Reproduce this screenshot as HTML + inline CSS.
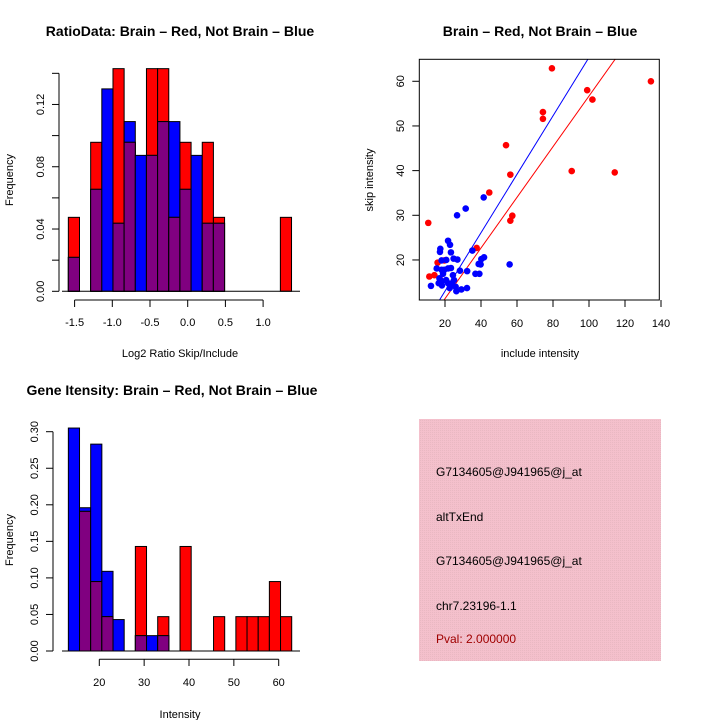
<!DOCTYPE html>
<html><head><meta charset="utf-8"><style>
body{margin:0;background:#fff}
svg{display:block;font-family:"Liberation Sans",sans-serif}
</style></head><body>
<svg id="c" width="720" height="720" viewBox="0 0 720 720" xmlns="http://www.w3.org/2000/svg">
<defs>
<pattern id="pk" width="2" height="2" patternUnits="userSpaceOnUse"><rect width="2" height="2" fill="#f4c0cc"/><rect width="1" height="1" fill="#e9b8c2"/></pattern>
</defs>
<g id="p1"></g>
<g id="p2"></g>
<g id="p3"></g>
<g>
<rect x="419" y="419" width="242" height="242" fill="url(#pk)"/>
<text x="436" y="476" font-size="12">G7134605@J941965@j_at</text>
<text x="436" y="521" font-size="12">altTxEnd</text>
<text x="436" y="565" font-size="12">G7134605@J941965@j_at</text>
<text x="436" y="610" font-size="12">chr7.23196-1.1</text>
<text x="436" y="643" font-size="12" fill="#a00000">Pval: 2.000000</text>
</g>
</svg>
<script>
// ---- data: ratio histogram ----
const ratioStart = -1.583, ratioWidth = 0.148;
const ratioRed  = [0.0475,0,0.0957,0,0.143,0.0957,0,0.143,0.143,0.0475,0.0957,0,0.0957,0.0475,0,0,0,0,0,0.0475];
const ratioBlue = [0.0218,0,0.0655,0.130,0.0437,0.109,0.0873,0.0873,0.109,0.109,0.0655,0.0873,0.0437,0.0437,0,0,0,0,0,0];
const ratioXTicks = [-1.5,-1,-0.5,0,0.5,1];
const ratioXLabels = ["-1.5","-1.0","-0.5","0.0","0.5","1.0"];
const ratioYTicks = [0,0.02,0.04,0.06,0.08,0.10,0.12,0.14];
const ratioYLabels = ["0.00","0.04","0.08","0.12"];
// ---- data: intensity histogram ----
const intStart = 13.1, intWidth = 2.49;
const intRed  = [0,0.191,0.095,0.047,0,0,0.143,0,0.047,0,0.143,0,0,0.047,0,0.047,0.047,0.047,0.095,0.047];
const intBlue = [0.305,0.196,0.283,0.109,0.043,0,0.021,0.021,0.021,0,0,0,0,0,0,0,0,0,0,0];
const intXTicks = [20,30,40,50,60];
const intYTicks = [0,0.05,0.10,0.15,0.20,0.25,0.30];
const intYLabels = ["0.00","0.05","0.10","0.15","0.20","0.25","0.30"];
// ---- data: scatter ----
const redInc = [79.4,134.4,99,101.9,74.4,74.4,53.9,56.3,90.4,114.3,44.6,57.4,56.3,10.7,37.6,15.9,11.3,14.1,17.2,19.6];
const redSkip = [62.9,60,58,55.9,53.1,51.6,45.7,39.1,39.9,39.6,35.1,29.9,28.8,28.3,22.7,19.4,16.3,16.6,15.7,19.9];
const blueInc = [41.5,31.5,26.7,21.7,22.8,17.4,17.2,23.3,35.2,41.7,40.2,24.8,26.9,18.1,20.7,38.7,39.8,55.9,15.4,21.7,23.3,18.1,28.3,32.3,36.9,39.1,18.9,24.4,16.9,18.3,20.6,25,16.5,18.3,12.2,22.6,25.9,29.1,32.2,26.3,21.7,23.9,19.6];
const blueSkip = [34,31.5,30,24.3,23.4,22.5,21.8,21.7,22.1,20.6,20.2,20.3,20.1,19.9,20,19.1,19,19,18.1,18.1,18.2,17.8,17.6,17.5,16.9,16.9,16.9,16.6,15.9,15.2,15.5,15.5,14.8,14.3,14.2,13.7,14,13.4,13.7,13,14.8,14.8,17.8];
const blueLine = [-0.06, 0.654]; // intercept, slope
const redLine = [0.0, 0.567];
const scXTicks = [20,40,60,80,100,120,140];
const scYTicks = [20,30,40,50,60];

const NS="http://www.w3.org/2000/svg";
function mk(parent,tag,attrs){const e=document.createElementNS(NS,tag);for(const k in attrs)e.setAttribute(k,attrs[k]);parent.appendChild(e);return e;}
function txt(parent,x,y,s,size,extra){const e=mk(parent,'text',Object.assign({x:x,y:y,'font-size':size,'text-anchor':'middle'},extra||{}));e.textContent=s;return e;}

function hist(g,start,w,red,blue,sx,sy,y0){
  for(let i=0;i<red.length;i++){
    const x1=sx(start+i*w),x2=sx(start+(i+1)*w);
    const r=red[i],b=blue[i];
    const bars=[[r,'#ff0000','red'],[b,'#0000ff','blue']].filter(a=>a[0]>0).sort((a,c)=>c[0]-a[0]);
    for(const [v,col,nm] of bars){
      const e=mk(g,'rect',{x:x1,y:sy(v),width:x2-x1,height:y0-sy(v),fill:col,stroke:'#000','stroke-width':1});
      
      
    }
    if(r>0&&b>0){const m=Math.min(r,b);
      const e=mk(g,'rect',{x:x1,y:sy(m),width:x2-x1,height:y0-sy(m),fill:'#800080',stroke:'#000','stroke-width':1});
      
      
    }
  }
}

// Plot 1
(function(){
  const g=document.getElementById('p1');
  const sx=v=>187.7+v*75.4, sy=v=>291.3-v*1557;
  hist(g,ratioStart,ratioWidth,ratioRed,ratioBlue,sx,sy,291.3);
  mk(g,'line',{x1:59,y1:sy(0),x2:59,y2:sy(0.14),stroke:'#000'});
  ratioYTicks.forEach(t=>mk(g,'line',{x1:52,y1:sy(t),x2:59,y2:sy(t),stroke:'#000'}));
  ratioYLabels.forEach(l=>{const y=sy(parseFloat(l));txt(g,44,y,l,11,{transform:`rotate(-90 44 ${y})`});});
  mk(g,'line',{x1:sx(-1.5),y1:300,x2:sx(1),y2:300,stroke:'#000'});
  ratioXTicks.forEach((t,i)=>{mk(g,'line',{x1:sx(t),y1:300,x2:sx(t),y2:307,stroke:'#000'});txt(g,sx(t),326,ratioXLabels[i],11);});
  mk(g,'line',{x1:62,y1:291.3,x2:300,y2:291.3,stroke:'#000'});
  txt(g,180,36,'RatioData: Brain – Red, Not Brain – Blue',14,{'font-weight':'bold'});
  txt(g,180,357,'Log2 Ratio Skip/Include',11);
  txt(g,13,180,'Frequency',11,{transform:'rotate(-90 13 180)'});
})();

// Plot 3
(function(){
  const g=document.getElementById('p3');
  const sx=v=>99.3+(v-20)*4.485, sy=v=>651-v*731;
  hist(g,intStart,intWidth,intRed,intBlue,sx,sy,651);
  mk(g,'line',{x1:53,y1:sy(0),x2:53,y2:sy(0.3),stroke:'#000'});
  intYTicks.forEach((t,i)=>{const y=sy(t);mk(g,'line',{x1:46,y1:y,x2:53,y2:y,stroke:'#000'});txt(g,38,y,intYLabels[i],11,{transform:`rotate(-90 38 ${y})`});});
  mk(g,'line',{x1:sx(20),y1:659.3,x2:sx(60),y2:659.3,stroke:'#000'});
  intXTicks.forEach(t=>{mk(g,'line',{x1:sx(t),y1:659.3,x2:sx(t),y2:666,stroke:'#000'});txt(g,sx(t),686,String(t),11);});
  mk(g,'line',{x1:62,y1:651,x2:300,y2:651,stroke:'#000'});
  txt(g,172,395,'Gene Itensity: Brain – Red, Not Brain – Blue',14,{'font-weight':'bold'});
  txt(g,180,718,'Intensity',11);
  txt(g,13,540,'Frequency',11,{transform:'rotate(-90 13 540)'});
})();

// Plot 2
(function(){
  const g=document.getElementById('p2');
  const sx=v=>409+v*1.8, sy=v=>349.3-v*4.467;
  const L=419.3,R=659.3,T=59.3,B=300;
  mk(g,'defs',{}).innerHTML='<clipPath id="cl"><rect x="419.3" y="59.3" width="240" height="240.7"/></clipPath>';
  [[blueLine,'#0000ff','blue-fit-line'],[redLine,'#ff0000','red-fit-line']].forEach(([ln,col,nm])=>{
    const xa=0,xb=160;
    const e=mk(g,'line',{x1:sx(xa),y1:sy(ln[0]+ln[1]*xa),x2:sx(xb),y2:sy(ln[0]+ln[1]*xb),stroke:col,'stroke-width':1,'clip-path':'url(#cl)'});
    
    
  });
  redInc.forEach((x,i)=>{const e=mk(g,'circle',{cx:sx(x),cy:sy(redSkip[i]),r:3.3,fill:'#ff0000'});
    
    });
  blueInc.forEach((x,i)=>{const e=mk(g,'circle',{cx:sx(x),cy:sy(blueSkip[i]),r:3.3,fill:'#0000ff'});
    
    });
  mk(g,'rect',{x:L,y:T,width:R-L,height:B-T,fill:'none',stroke:'#000'});
  scXTicks.forEach(t=>{mk(g,'line',{x1:sx(t),y1:B,x2:sx(t),y2:B+7,stroke:'#000'});txt(g,sx(t),327,String(t),11);});
  scYTicks.forEach(t=>{const y=sy(t);mk(g,'line',{x1:L-7,y1:y,x2:L,y2:y,stroke:'#000'});txt(g,404,y,String(t),11,{transform:`rotate(-90 404 ${y})`});});
  txt(g,540,36,'Brain – Red, Not Brain – Blue',14,{'font-weight':'bold'});
  txt(g,540,357,'include intensity',11);
  txt(g,373,180,'skip intensity',11,{transform:'rotate(-90 373 180)'});
})();
</script>
</body></html>
